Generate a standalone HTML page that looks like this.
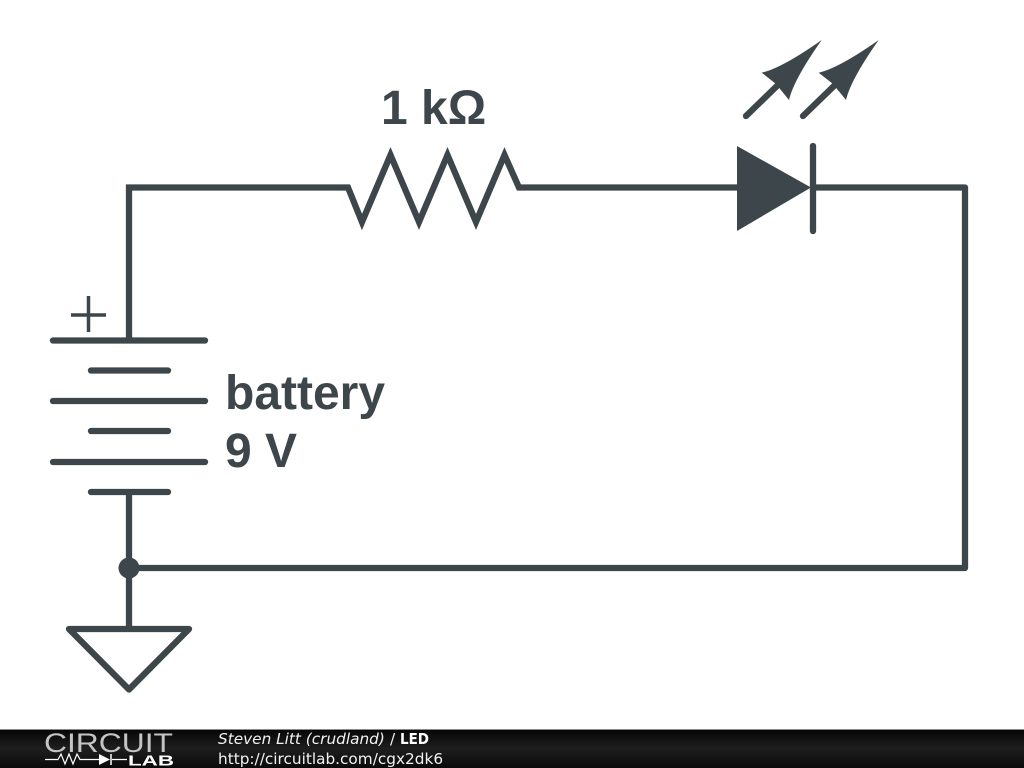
<!DOCTYPE html>
<html>
<head>
<meta charset="utf-8">
<style>
html,body{margin:0;padding:0;background:#fff;width:1024px;height:768px;overflow:hidden}
svg{display:block}
</style>
</head>
<body>
<svg width="1024" height="768" viewBox="0 0 1024 768" xmlns="http://www.w3.org/2000/svg">
<defs>
<linearGradient id="bar" x1="0" y1="0" x2="0" y2="1">
<stop offset="0" stop-color="#050505"/>
<stop offset="0.5" stop-color="#1e1e1e"/>
<stop offset="1" stop-color="#0a0a0a"/>
</linearGradient>
</defs>
<rect width="1024" height="768" fill="#fff"/>
<g fill="none" stroke="#3d464b" stroke-width="6.300" stroke-linejoin="miter">
<path d="M129 340V187.500H348L362 222L390.500 155L419 222L447.500 155L476 222L504.500 155L519 187.500H740" />
<path d="M810 187.500H965V568H129" stroke-linejoin="round"/>
<path d="M129 492V628"/>
<g stroke-linecap="round">
<path d="M53 340.500H205M53 401H205M53 462H205"/>
<path d="M91 370.500H168M91 431H168M91 492H168"/>
<path d="M813 146V231"/>
<path d="M746 116L779 84"/>
<path d="M803 116L836 84"/>
</g>
<path d="M69 629H189L129 689.500Z" stroke-linejoin="round"/>
</g>
<path d="M71 315H106M88.500 296V332" fill="none" stroke="#3d464b" stroke-width="3.500"/>
<circle cx="129" cy="568" r="10.500" fill="#3d464b"/>
<path d="M737 146L811 187.500L737 231Z" fill="#3d464b"/>
<path d="M821.700 40Q782 68 761.700 72.700L776 84L789 100Q793.700 79.700 821.700 40Z" fill="#3d464b"/>
<path d="M878.700 40Q839 68 818.700 72.700L833 84L846 100Q850.700 79.700 878.700 40Z" fill="#3d464b"/>
<g font-family="'Liberation Sans',sans-serif" font-weight="700" font-size="48" fill="#3d464b">
<text x="381" y="124">1 kΩ</text>
<text x="225" y="409">battery</text>
<text x="225" y="467">9 V</text>
</g>
<rect y="729" width="1024" height="39" fill="url(#bar)"/>
<rect y="729" width="1024" height="1" fill="#8a8a8a"/>
<text x="44" y="752" font-family="'Liberation Sans',sans-serif" font-size="27" fill="#c4c4c4" textLength="129" lengthAdjust="spacingAndGlyphs" style="font-weight:400">CIRCUIT</text>
<path d="M45 759.500H58L61 754L65 764L69 754L73 764L77 754L80 759.500H99M112 759.500H127" fill="none" stroke="#fff" stroke-width="1.200"/>
<path d="M99 754L110 759.500L99 765Z" fill="#fff"/>
<path d="M111 754V765" stroke="#fff" stroke-width="1.500"/>
<text x="128" y="765.500" font-family="'Liberation Sans',sans-serif" font-size="15" font-weight="700" fill="#fff" textLength="46" lengthAdjust="spacingAndGlyphs">LAB</text>
<g font-family="'DejaVu Sans',sans-serif" font-size="15.300" fill="#f2f2f2">
<text x="218" y="744" font-style="italic">Steven Litt (crudland)</text>
<text x="390" y="744">/</text>
<text x="400" y="744" font-weight="700" fill="#fff" textLength="29" lengthAdjust="spacingAndGlyphs">LED</text>
<text x="218" y="764">http://circuitlab.com/cgx2dk6</text>
</g>
</svg>
</body>
</html>
